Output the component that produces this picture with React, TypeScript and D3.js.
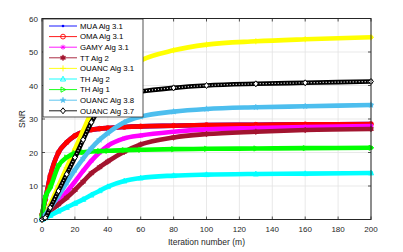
import * as d3 from 'd3';

const iterations = [0, 2, 5, 10, 15, 20, 25, 30, 35, 40, 50, 60, 80, 100, 130, 160, 200];

const muaAlg31 = [1.5, 6, 13, 20, 23, 25, 26.2, 26.8, 27.1, 27.3, 27.6, 27.8, 28, 28.2, 28.3, 28.4, 28.5];
const omaAlg31 = [1.5, 6, 13, 20, 23, 25, 26.2, 26.8, 27.1, 27.3, 27.6, 27.8, 28, 28.2, 28.3, 28.4, 28.5];
const gamyAlg31 = [0, 1.2, 3, 5.5, 8.2, 11.3, 14.5, 17.5, 20, 22, 24.2, 25.1, 26.2, 26.9, 27.3, 27.6, 27.9];
const ttAlg2 = [0, 1, 2.5, 4.5, 6.5, 8.8, 11.3, 13.8, 15.6, 17.3, 20.2, 22.4, 24.5, 25.5, 26.2, 26.7, 27];
const ouancAlg31 = [0, 1.5, 4.5, 10, 15.5, 21, 26.5, 32, 36, 39.5, 44.5, 47.5, 50.5, 52.2, 53.2, 53.8, 54.4];
const thAlg2 = [0, 0.5, 1.2, 2.5, 3.6, 4.8, 6, 7.3, 8.6, 9.8, 11.5, 12.4, 13.1, 13.4, 13.6, 13.7, 13.9];
const thAlg1 = [1, 6.5, 9.5, 16, 18.5, 19.8, 20.1, 20.3, 20.4, 20.5, 20.7, 20.8, 21, 21.1, 21.2, 21.3, 21.4];
const ouancAlg38 = [0, 1.4, 3.5, 7, 11, 14.8, 18.2, 21.3, 23.8, 25.8, 29, 30.7, 32.2, 33, 33.5, 33.8, 34.2];
const ouancAlg37 = [0, 0.5, 3.5, 8.5, 13.5, 18.5, 23.8, 29, 33, 35.5, 37.3, 38.2, 39.3, 40, 40.5, 40.8, 41.2];

const xTicks = [0, 20, 40, 60, 80, 100, 120, 140, 160, 180, 200];
const yTicks = [0, 10, 20, 30, 40, 50, 60];

type Marker = 'dot' | 'circle' | 'asterisk' | 'hexagram' | 'plus' | 'triUp' | 'triRight' | 'pentagram' | 'diamond';
type Series = { name: string; values: number[]; color: string; marker: Marker };

const series: Series[] = [
  { name: 'MUA Alg 3.1', values: muaAlg31, color: '#0000ff', marker: 'dot' },
  { name: 'OMA Alg 3.1', values: omaAlg31, color: '#ff0000', marker: 'circle' },
  { name: 'GAMY Alg 3.1', values: gamyAlg31, color: '#ff00ff', marker: 'asterisk' },
  { name: 'TT Alg 2', values: ttAlg2, color: '#a2142f', marker: 'hexagram' },
  { name: 'OUANC Alg 3.1', values: ouancAlg31, color: '#ffff00', marker: 'plus' },
  { name: 'TH Alg 2', values: thAlg2, color: '#00ffff', marker: 'triUp' },
  { name: 'TH Alg 1', values: thAlg1, color: '#00ff00', marker: 'triRight' },
  { name: 'OUANC Alg 3.8', values: ouancAlg38, color: '#4dbeee', marker: 'pentagram' },
  { name: 'OUANC Alg 3.7', values: ouancAlg37, color: '#000000', marker: 'diamond' },
];

const W = 403;
const H = 252;
const left = 42;
const right = 371;
const top = 18.5;
const bottom = 219.5;
const font = 'Liberation Sans, Arial, Helvetica, sans-serif';
const axisColor = '#262626';

function starPath(n: number, ro: number, ri: number) {
  const pts: string[] = [];
  for (let i = 0; i < n * 2; i++) {
    const a = (Math.PI * i) / n - Math.PI / 2;
    const r = i % 2 === 0 ? ro : ri;
    pts.push(`${(r * Math.cos(a)).toFixed(2)},${(r * Math.sin(a)).toFixed(2)}`);
  }
  return `M${pts.join('L')}Z`;
}

function MarkerGlyph({ kind, color, x, y }: { kind: Marker; color: string; x: number; y: number }) {
  const t = `translate(${x},${y})`;
  switch (kind) {
    case 'dot':
      return <circle transform={t} r={1.3} fill={color} />;
    case 'circle':
      return <circle transform={t} r={2.4} fill="none" stroke={color} strokeWidth={0.9} />;
    case 'asterisk':
      return (
        <path transform={t} d="M-2.5,0H2.5M0,-2.5V2.5M-1.8,-1.8L1.8,1.8M-1.8,1.8L1.8,-1.8" stroke={color} strokeWidth={0.9} />
      );
    case 'hexagram':
      return <path transform={t} d={starPath(6, 3, 1.8)} fill={color} stroke={color} strokeWidth={0.5} />;
    case 'plus':
      return <path transform={t} d="M-3,0H3M0,-3V3" stroke={color} strokeWidth={0.9} />;
    case 'triUp':
      return <path transform={t} d="M0,-2.8L2.6,2L-2.6,2Z" fill="none" stroke={color} strokeWidth={0.9} />;
    case 'triRight':
      return <path transform={t} d="M2.8,0L-2,2.6L-2,-2.6Z" fill="none" stroke={color} strokeWidth={0.9} />;
    case 'pentagram':
      return <path transform={t} d={starPath(5, 3.2, 1.3)} fill={color} stroke={color} strokeWidth={0.4} />;
    case 'diamond':
      return <path transform={t} d="M0,-3L2.4,0L0,3L-2.4,0Z" fill="#ffffff" stroke={color} strokeWidth={1} />;
  }
  return null;
}

export default function App() {
  const x = d3.scaleLinear().domain([0, 200]).range([left, right]);
  const y = d3.scaleLinear().domain([0, 60]).range([bottom, top]);

  const line = d3
    .line<number>()
    .x((_, i) => x(iterations[i]))
    .y((d) => y(d))
    .curve(d3.curveMonotoneX);

  const legX = 43;
  const legY = 19;
  const legW = 100;
  const legH = 98;
  const rowY = (i: number) => legY + 7 + i * 10.6;

  return (
    <div style={{ position: 'fixed', left: 0, top: 0 }}>
      <svg width={W} height={H} style={{ display: 'block', background: '#fff' }}>
        {/* grid */}
        <g stroke="#e3e3e3" strokeWidth={0.8}>
          {xTicks.map((t) => (
            <line key={`gx${t}`} x1={x(t)} x2={x(t)} y1={top} y2={bottom} />
          ))}
          {yTicks.map((t) => (
            <line key={`gy${t}`} x1={left} x2={right} y1={y(t)} y2={y(t)} />
          ))}
        </g>

        {/* series: dense markers in the original read as thick bands */}
        {series.map((s) => (
          <g key={s.name}>
            <path d={line(s.values) ?? ''} fill="none" stroke={s.color} strokeWidth={4.6} strokeLinejoin="round" strokeLinecap="round" />
            {s.marker === 'diamond' && (
              <path d={line(s.values) ?? ''} fill="none" stroke="#ffffff" strokeWidth={1.2} strokeDasharray="1 2" />
            )}
            {s.values.map((v, i) => (
              <MarkerGlyph key={i} kind={s.marker} color={s.color} x={x(iterations[i])} y={y(v)} />
            ))}
          </g>
        ))}

        {/* axes box and ticks */}
        <rect x={left} y={top} width={right - left} height={bottom - top} fill="none" stroke={axisColor} strokeWidth={1} />
        <g stroke={axisColor} strokeWidth={0.8}>
          {xTicks.map((t) => (
            <g key={`tx${t}`}>
              <line x1={x(t)} x2={x(t)} y1={bottom} y2={bottom - 3} />
              <line x1={x(t)} x2={x(t)} y1={top} y2={top + 3} />
            </g>
          ))}
          {yTicks.map((t) => (
            <g key={`ty${t}`}>
              <line x1={left} x2={left + 3} y1={y(t)} y2={y(t)} />
              <line x1={right} x2={right - 3} y1={y(t)} y2={y(t)} />
            </g>
          ))}
        </g>
        <g fontFamily={font} fontSize={8} fill={axisColor}>
          {xTicks.map((t) => (
            <text key={`lx${t}`} x={x(t)} y={bottom + 12.5} textAnchor="middle">
              {t}
            </text>
          ))}
          {yTicks.map((t) => (
            <text key={`ly${t}`} x={left - 4} y={y(t) + 3} textAnchor="end">
              {t}
            </text>
          ))}
        </g>
        <text x={(left + right) / 2} y={245} textAnchor="middle" fontFamily={font} fontSize={8.5} fill={axisColor}>
          Iteration number (m)
        </text>
        <text transform={`translate(25,${(top + bottom) / 2}) rotate(-90)`} textAnchor="middle" fontFamily={font} fontSize={8.5} fill={axisColor}>
          SNR
        </text>

        {/* legend */}
        <rect x={legX} y={legY} width={legW} height={legH} fill="#ffffff" stroke={axisColor} strokeWidth={0.8} />
        {series.map((s, i) => (
          <g key={`leg${s.name}`}>
            <line x1={legX + 6} x2={legX + 34} y1={rowY(i)} y2={rowY(i)} stroke={s.color} strokeWidth={0.9} />
            <MarkerGlyph kind={s.marker} color={s.color} x={legX + 20} y={rowY(i)} />
            <text x={legX + 37} y={rowY(i) + 2.8} fontFamily={font} fontSize={7.8} fill="#000">
              {s.name}
            </text>
          </g>
        ))}
      </svg>
    </div>
  );
}
